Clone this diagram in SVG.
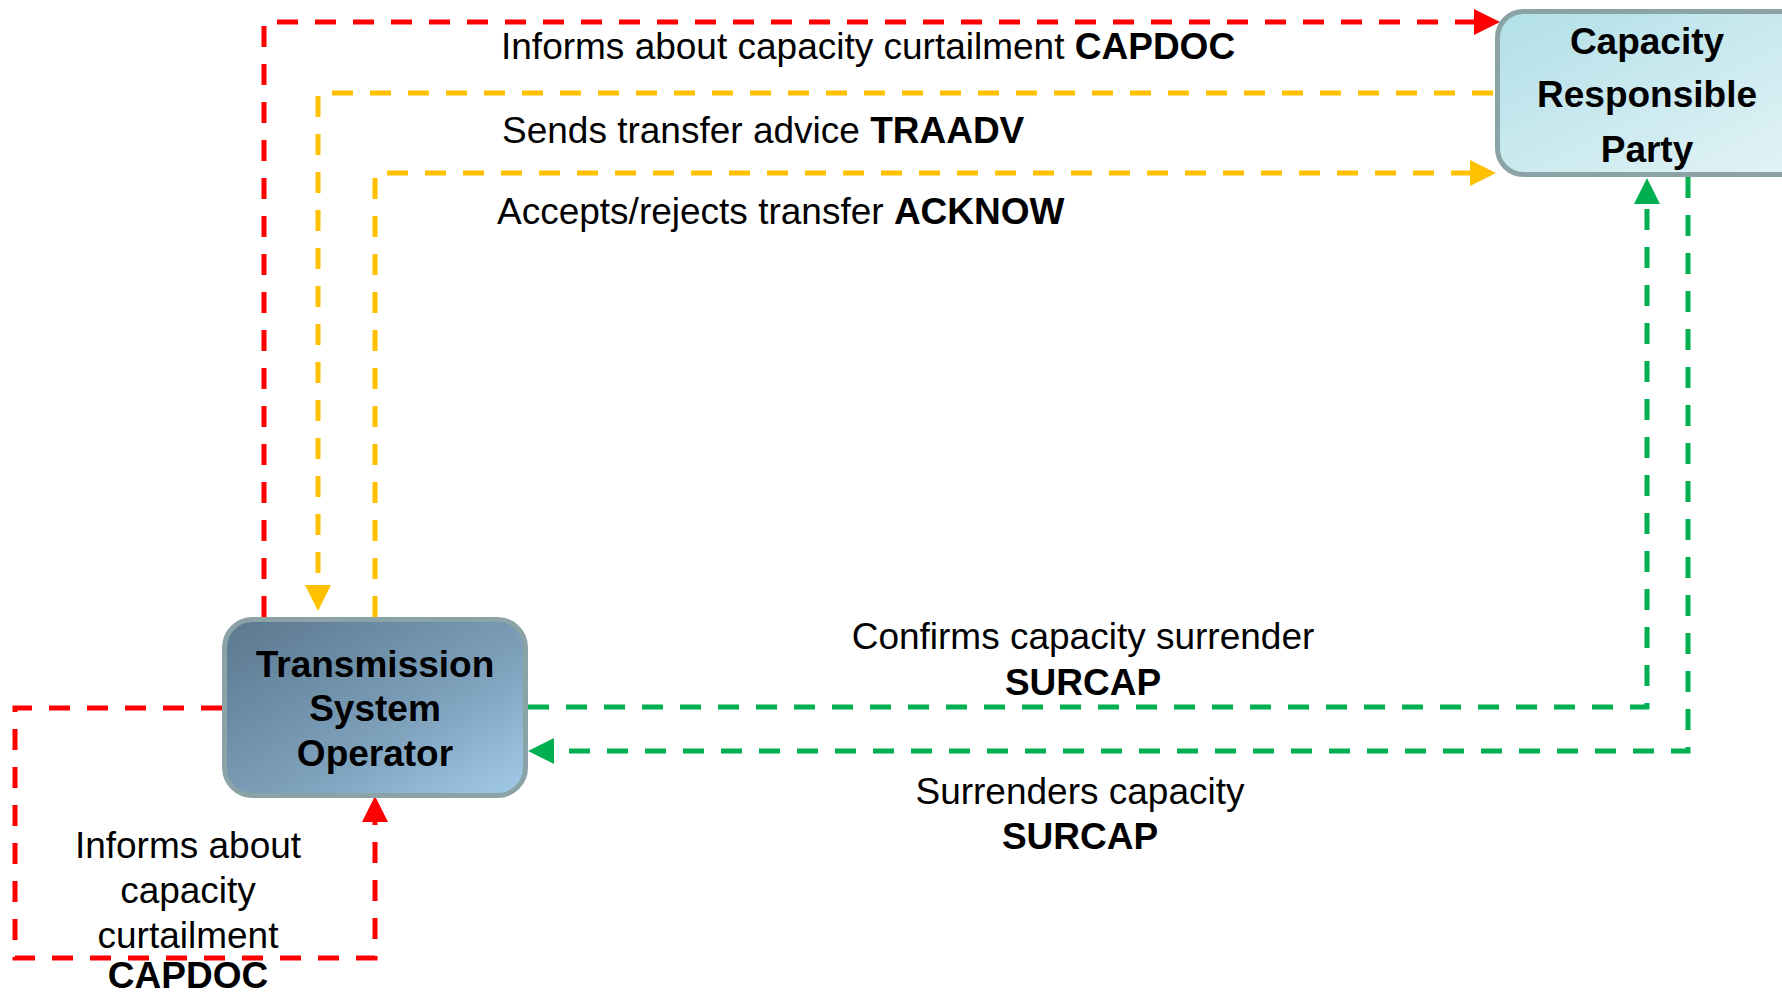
<svg xmlns="http://www.w3.org/2000/svg" width="1782" height="994" viewBox="0 0 1782 994">
<style>
.bg{fill:#ffffff}
.node{stroke:#8BA3A6;stroke-width:5}
.lbl{font-family:"Liberation Sans",Arial,sans-serif;font-size:37px;fill:#000}
.ntxt{font-family:"Liberation Sans",Arial,sans-serif;font-size:37px;font-weight:bold;fill:#000;text-anchor:middle}
.b{font-weight:bold}
.mid{text-anchor:middle}
.c{fill:none;stroke-width:5;stroke-dasharray:21 17}
.red{stroke:#FF0000}
.yel{stroke:#FFC000}
.grn{stroke:#00B050}
</style>
<defs>
<linearGradient id="gTSO" x1="0" y1="0" x2="1" y2="1">
<stop offset="0" stop-color="#5A778E"/>
<stop offset="0.6" stop-color="#7EA1BC"/>
<stop offset="1" stop-color="#A2CBEA"/>
</linearGradient>
<linearGradient id="gCRP" x1="0" y1="0" x2="1" y2="1">
<stop offset="0" stop-color="#B1DFE7"/>
<stop offset="1" stop-color="#E4F4F7"/>
</linearGradient>
<marker id="aR" markerUnits="userSpaceOnUse" markerWidth="28" markerHeight="28" refX="0" refY="13" orient="auto"><path d="M0,0 L26,13 L0,26 z" fill="#FF0000"/></marker>
<marker id="aY" markerUnits="userSpaceOnUse" markerWidth="28" markerHeight="28" refX="0" refY="13" orient="auto"><path d="M0,0 L26,13 L0,26 z" fill="#FFC000"/></marker>
<marker id="aG" markerUnits="userSpaceOnUse" markerWidth="28" markerHeight="28" refX="0" refY="13" orient="auto"><path d="M0,0 L26,13 L0,26 z" fill="#00B050"/></marker>
</defs>
<rect class="bg" x="0" y="0" width="1782" height="994"/>
<g id="connectors">
<path class="c red" d="M264,617 V22 H1474" marker-end="url(#aR)"/>
<path class="c yel" d="M1493,93 H318 V585" marker-end="url(#aY)"/>
<path class="c yel" d="M375,617 V173 H1470" marker-end="url(#aY)"/>
<path class="c grn" d="M528,707 H1647 V204" marker-end="url(#aG)"/>
<path class="c grn" d="M1688,177 V751 H554" marker-end="url(#aG)"/>
<path class="c red" d="M222,708 H15 V958 H375 V822" marker-end="url(#aR)"/>
</g>
<g id="labels">
<text class="lbl" x="501" y="59">Informs about capacity curtailment <tspan class="b">CAPDOC</tspan></text>
<text class="lbl" x="502" y="143">Sends transfer advice <tspan class="b">TRAADV</tspan></text>
<text class="lbl" x="497" y="224">Accepts/rejects transfer <tspan class="b">ACKNOW</tspan></text>
<text class="lbl mid" x="1083" y="649">Confirms capacity surrender</text>
<text class="lbl mid b" x="1083" y="695">SURCAP</text>
<text class="lbl mid" x="1080" y="804">Surrenders capacity</text>
<text class="lbl mid b" x="1080" y="849">SURCAP</text>
<text class="lbl mid" x="188" y="858">Informs about</text>
<text class="lbl mid" x="188" y="903">capacity</text>
<text class="lbl mid" x="188" y="948">curtailment</text>
<text class="lbl mid b" x="188" y="988">CAPDOC</text>
</g>
<g id="tso">
<rect class="node" x="224.5" y="619.5" width="301" height="176" rx="28" fill="url(#gTSO)"/>
<text class="ntxt" x="375" y="677">Transmission</text>
<text class="ntxt" x="375" y="721">System</text>
<text class="ntxt" x="375" y="766">Operator</text>
</g>
<g id="crp">
<rect class="node" x="1497.5" y="11.5" width="320" height="163" rx="26" fill="url(#gCRP)"/>
<text class="ntxt" x="1647" y="54">Capacity</text>
<text class="ntxt" x="1647" y="107">Responsible</text>
<text class="ntxt" x="1647" y="162">Party</text>
</g>
</svg>
